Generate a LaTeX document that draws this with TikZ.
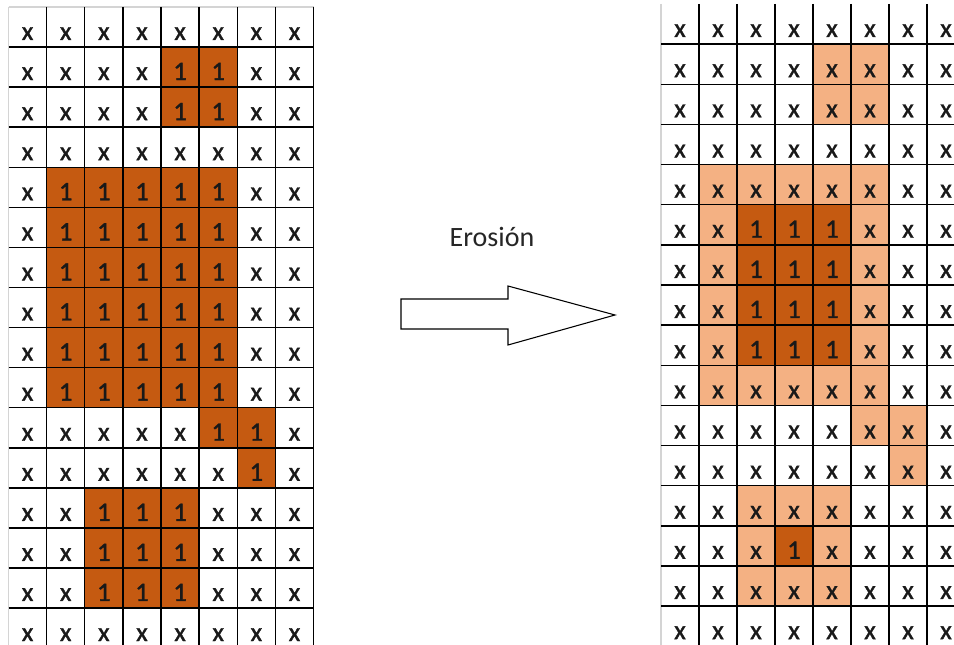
\documentclass[tikz,border=0pt]{standalone}
\usepackage{fontspec}
\setmainfont{Carlito}
\newfontfamily\cellfont{Carlito}[FakeBold=1.3]
\definecolor{darkfill}{HTML}{C55A11}
\definecolor{lightfill}{HTML}{F4B183}
\definecolor{edgegray}{HTML}{D4D4D4}
\begin{document}
\begin{tikzpicture}[x=0.75pt,y=-0.75pt,
  celltext/.style={font=\cellfont\fontsize{20}{22}\selectfont, text=black!90, anchor=base, inner sep=0pt},
  gridline/.style={black, line width=1.1pt},
  outerline/.style={edgegray, line width=1pt},
  bigarrow/.style={draw=black, line width=0.8pt, fill=white, line join=miter}]
\useasboundingbox (0,0) rectangle (954,645);
\begin{scope}
\clip (0,0) rectangle (954,645);

% ---------- input image: 0 = background (x), 1 = object (1)
\foreach \r/\vals in {
  0/{0,0,0,0,0,0,0,0}, 1/{0,0,0,0,1,1,0,0}, 2/{0,0,0,0,1,1,0,0}, 3/{0,0,0,0,0,0,0,0},
  4/{0,1,1,1,1,1,0,0}, 5/{0,1,1,1,1,1,0,0}, 6/{0,1,1,1,1,1,0,0}, 7/{0,1,1,1,1,1,0,0},
  8/{0,1,1,1,1,1,0,0}, 9/{0,1,1,1,1,1,0,0}, 10/{0,0,0,0,0,1,1,0}, 11/{0,0,0,0,0,0,1,0},
  12/{0,0,1,1,1,0,0,0}, 13/{0,0,1,1,1,0,0,0}, 14/{0,0,1,1,1,0,0,0}, 15/{0,0,0,0,0,0,0,0}}{
  \foreach \v [count=\c from 0] in \vals {
    \ifnum\v=1
      \fill[darkfill] (8.5+38.13*\c,7+40.07*\r) rectangle (8.5+38.13*\c+38.13,7+40.07*\r+40.07);
    \fi
    \node[celltext] (L-\r-\c) at (8.5+38.13*\c+19.07,7+40.07*\r+33) {\ifnum\v=1 1\else x\fi};
  }
}

% ---------- eroded image: 0 = background, 1 = removed object pixel, 2 = kept object pixel
\foreach \r/\vals in {
  0/{0,0,0,0,0,0,0,0}, 1/{0,0,0,0,1,1,0,0}, 2/{0,0,0,0,1,1,0,0}, 3/{0,0,0,0,0,0,0,0},
  4/{0,1,1,1,1,1,0,0}, 5/{0,1,2,2,2,1,0,0}, 6/{0,1,2,2,2,1,0,0}, 7/{0,1,2,2,2,1,0,0},
  8/{0,1,2,2,2,1,0,0}, 9/{0,1,1,1,1,1,0,0}, 10/{0,0,0,0,0,1,1,0}, 11/{0,0,0,0,0,0,1,0},
  12/{0,0,1,1,1,0,0,0}, 13/{0,0,1,2,1,0,0,0}, 14/{0,0,1,1,1,0,0,0}, 15/{0,0,0,0,0,0,0,0}}{
  \foreach \v [count=\c from 0] in \vals {
    \ifnum\v=1
      \fill[lightfill] (661+38*\c,4+40.14*\r) rectangle (661+38*\c+38,4+40.14*\r+40.14);
    \fi
    \ifnum\v=2
      \fill[darkfill] (661+38*\c,4+40.14*\r) rectangle (661+38*\c+38,4+40.14*\r+40.14);
    \fi
    \node[celltext] (R-\r-\c) at (661+38*\c+19,4+40.14*\r+33) {\ifnum\v=2 1\else x\fi};
  }
}

% ---------- grid lines, input image
\draw[outerline] (8.5,7) -- (8.5,645);
\draw[outerline] (8.5,7) -- (313.5,7);
\foreach \k in {1,...,8}
  \draw[gridline] (8.5+38.13*\k,7) -- (8.5+38.13*\k,645);
\foreach \k in {1,...,15}
  \draw[gridline] (8.5,7+40.07*\k) -- (313.5,7+40.07*\k);

% ---------- grid lines, eroded image
\draw[outerline] (661,4) -- (661,645);
\foreach \k in {1,...,8}
  \draw[gridline] (661+38*\k,4) -- (661+38*\k,645);
\foreach \k in {1,...,15}
  \draw[gridline] (661,4+40.14*\k) -- (954,4+40.14*\k);
\end{scope}

% ---------- operation arrow and label
\draw[bigarrow] (401,299) -- (508,299) -- (508,286) -- (615,315)
  -- (508,345) -- (508,329) -- (401,329) -- cycle;
\node[font=\fontsize{21}{24}\selectfont, text=black!85, anchor=base, inner sep=0pt]
  (label) at (492,247) {Erosión};
\end{tikzpicture}
\end{document}
